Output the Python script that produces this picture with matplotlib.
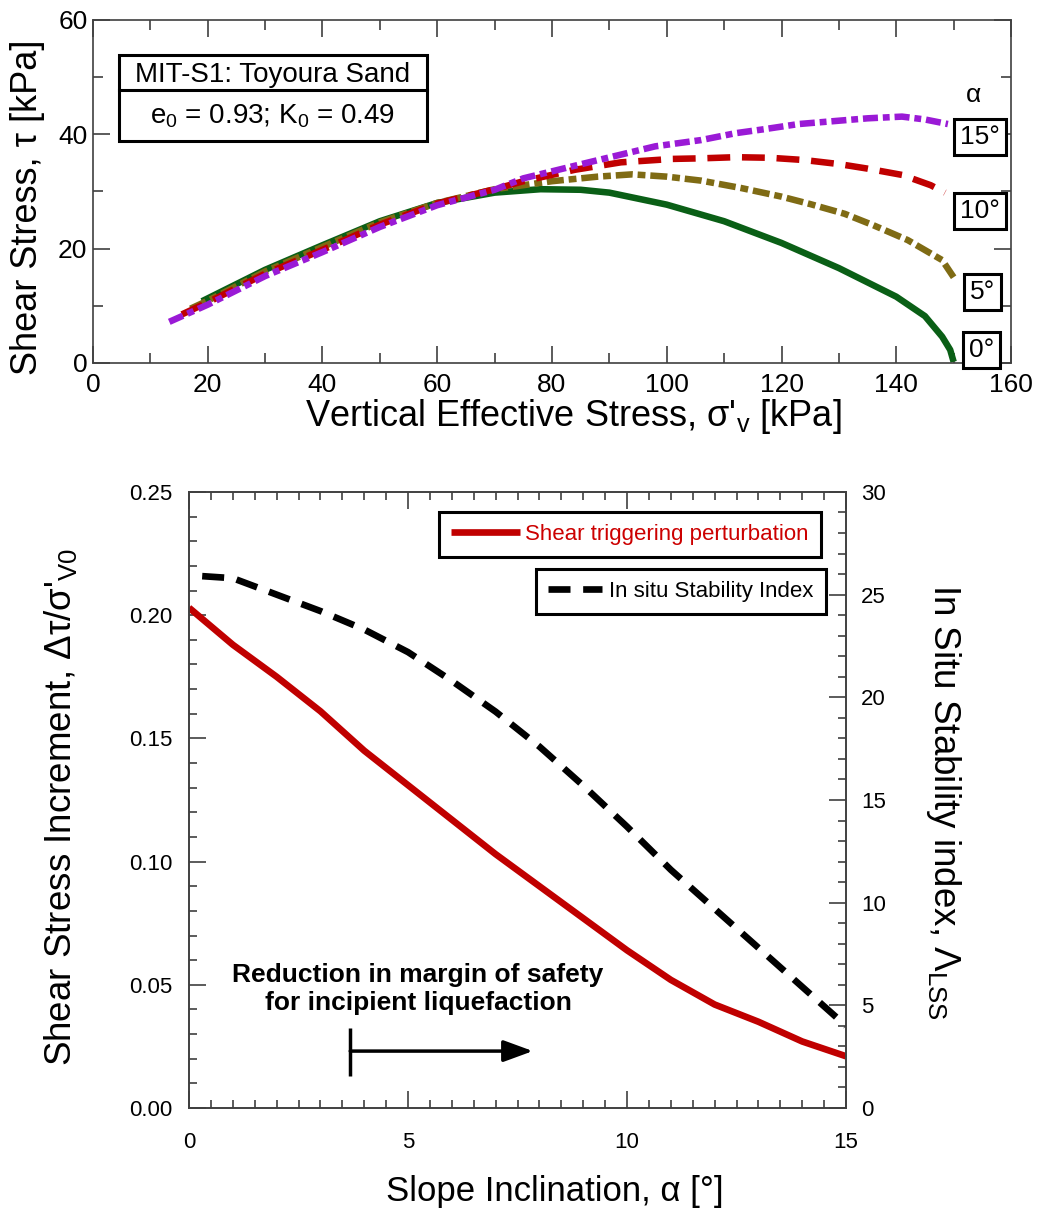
import matplotlib.pyplot as plt
from matplotlib.patches import Rectangle
from matplotlib.lines import Line2D
from matplotlib.ticker import MultipleLocator, FormatStrFormatter

plt.rcParams['font.family'] = ['Liberation Sans', 'DejaVu Sans']
plt.rcParams['mathtext.fontset'] = 'custom'
plt.rcParams['mathtext.rm'] = 'Liberation Sans'
plt.rcParams['mathtext.it'] = 'Liberation Sans:italic'
plt.rcParams['mathtext.bf'] = 'Liberation Sans:bold'

# ---- top panel: effective stress paths for each slope angle
sig_0 = [19, 25, 30, 40, 50, 60, 70, 78, 85, 90, 100, 110, 120, 130, 140, 145, 148, 149.4, 150]
tau_0 = [10.8, 13.8, 16.3, 20.6, 24.8, 28.0, 29.8, 30.4, 30.3, 29.8, 27.7, 24.8, 21.0, 16.6, 11.6, 8.2, 4.6, 2.3, 0.2]

sig_5 = [17, 20, 30, 40, 50, 60, 70, 80, 88, 94, 100, 106, 113, 120, 125, 131, 136, 142, 148, 150]
tau_5 = [9.5, 10.9, 16.0, 20.3, 24.6, 28.0, 30.4, 31.8, 32.6, 33.0, 32.6, 31.9, 30.6, 29.1, 27.8, 26.1, 24.1, 21.5, 18.0, 15.0]

sig_10 = [15.5, 20, 30, 40, 50, 60, 70, 75, 84, 92, 101, 106, 112, 118, 124, 130, 135, 141, 146, 148.5]
tau_10 = [8.5, 10.6, 15.6, 19.8, 24.2, 27.9, 30.4, 31.8, 33.8, 35.1, 35.7, 35.8, 36.0, 35.9, 35.5, 34.8, 34.0, 32.9, 31.1, 29.8]

sig_15 = [13.3, 20, 30, 40, 50, 60, 70, 75, 86, 98, 106, 112, 117, 123, 129, 135, 141, 145, 149]
tau_15 = [7.2, 10.2, 15.2, 19.4, 23.8, 27.6, 30.3, 32.3, 35.0, 37.9, 39.0, 40.2, 40.9, 41.8, 42.3, 42.8, 43.1, 42.6, 41.8]

angle_labels = ['0°', '5°', '10°', '15°']

# ---- bottom panel
alpha = [0, 1, 2, 3, 4, 5, 6, 7, 8, 9, 10, 11, 12, 13, 14, 15]
shear_inc = [0.203, 0.188, 0.175, 0.161, 0.145, 0.131, 0.117, 0.103, 0.090, 0.077,
             0.064, 0.052, 0.042, 0.035, 0.027, 0.021]
alpha_lss = [0.3, 1, 2, 3, 4, 5, 6, 7, 8, 9, 10, 11, 12, 13, 14, 15]
lss = [25.9, 25.8, 25.0, 24.2, 23.3, 22.2, 20.8, 19.3, 17.6, 15.7, 13.7, 11.6, 9.7, 7.8, 5.9, 4.0]

spine_col = '#404040'

fig = plt.figure(figsize=(10.41, 12.12), dpi=100)

# ================= top panel
ax = fig.add_axes([0.0893, 0.7005, 0.8819, 0.283])
lw = 4.7
ax.plot(sig_0, tau_0, color='#0A5F16', lw=lw, solid_capstyle='butt')
ax.plot(sig_5, tau_5, color='#7F6B14', lw=lw, linestyle=(0, (2.6, 0.75, 1.2, 0.75)))
ax.plot(sig_10, tau_10, color='#C00000', lw=lw, linestyle=(0, (3.5, 1.8)))
ax.plot(sig_15, tau_15, color='#9A1AD6', lw=lw, linestyle=(0, (2.3, 0.75, 1.05, 0.75)))

ax.set_xlim(0, 160)
ax.set_ylim(0, 60)
ax.xaxis.set_major_locator(MultipleLocator(20))
ax.xaxis.set_minor_locator(MultipleLocator(10))
ax.yaxis.set_major_locator(MultipleLocator(20))
ax.yaxis.set_minor_locator(MultipleLocator(10))
ax.tick_params(which='both', direction='in', top=True, right=True, color=spine_col)
ax.tick_params(which='major', length=12, width=1.2, labelsize=19)
ax.tick_params(which='minor', length=7, width=1.2)
ax.tick_params(axis='x', pad=7)
ax.tick_params(axis='y', pad=4)
for s in ax.spines.values():
    s.set_color(spine_col)
    s.set_linewidth(1.2)

ax.set_xlabel("Vertical Effective Stress, σ'$_\\mathrm{v}$ [kPa]", fontsize=26)
ax.set_ylabel('Shear Stress, τ [kPa]', fontsize=26)
ax.xaxis.set_label_coords(0.523, -0.10)
ax.yaxis.set_label_coords(-0.052, 0.455)

# info box
ax.add_patch(Rectangle((0.0283, 0.647), 0.3355, 0.251, transform=ax.transAxes,
                       fill=False, ec='k', lw=2.2, clip_on=False))
ax.add_line(Line2D([0.0283, 0.3638], [0.796, 0.796], transform=ax.transAxes, color='k', lw=2.2))
ax.text(0.196, 0.84, 'MIT-S1: Toyoura Sand', transform=ax.transAxes,
        ha='center', va='center', fontsize=20)
ax.text(0.196, 0.72, 'e$_0$ = 0.93; K$_0$ = 0.49', transform=ax.transAxes,
        ha='center', va='center', fontsize=20)

# angle labels at the end of each path
ax.text(153.4, 46.9, 'α', ha='center', va='center', fontsize=19)
for lab, (xx, yy) in zip(angle_labels, [(154.9, 2.3), (155.1, 12.4), (154.6, 26.6), (154.6, 39.5)]):
    ax.text(xx, yy, lab, ha='center', va='center', fontsize=19, clip_on=False,
            bbox=dict(boxstyle='square,pad=0.22', fc='white', ec='k', lw=2.2))

# ================= bottom panel
axb = fig.add_axes([0.1816, 0.0858, 0.6311, 0.5083])
axr = axb.twinx()

red_line, = axb.plot(alpha, shear_inc, color='#C00000', lw=4.8, solid_capstyle='butt',
                     label='Shear triggering perturbation')
blk_line, = axr.plot(alpha_lss, lss, color='k', lw=4.8, linestyle=(0, (3.3, 1.9)),
                     label='In situ Stability Index')

axb.set_xlim(0, 15)
axb.set_ylim(0, 0.25)
axr.set_ylim(0, 30)

axb.xaxis.set_major_locator(MultipleLocator(5))
axb.xaxis.set_minor_locator(MultipleLocator(0.5))
axb.yaxis.set_major_locator(MultipleLocator(0.05))
axb.yaxis.set_minor_locator(MultipleLocator(0.01))
axb.yaxis.set_major_formatter(FormatStrFormatter('%.2f'))
axr.yaxis.set_major_locator(MultipleLocator(5))
axr.yaxis.set_minor_locator(MultipleLocator(1))

axb.tick_params(which='both', direction='in', top=True, right=False, color=spine_col)
axb.tick_params(which='major', length=12, width=1.2, labelsize=16)
axb.tick_params(which='minor', length=6, width=1.2)
axb.tick_params(axis='x', pad=17)
axb.tick_params(axis='y', pad=12)
axr.tick_params(which='both', direction='in', color=spine_col)
axr.tick_params(which='major', length=12, width=1.2, labelsize=16, pad=11)
axr.tick_params(which='minor', length=6, width=1.2)
for a in (axb, axr):
    for s in a.spines.values():
        s.set_color(spine_col)
        s.set_linewidth(1.2)

axb.set_xlabel('Slope Inclination, α [°]', fontsize=25)
axb.set_ylabel("Shear Stress Increment, Δτ/σ'$_\\mathrm{V0}$", fontsize=26.5)
axr.set_ylabel('In Situ Stability index, Λ$_\\mathrm{LSS}$', fontsize=26.5, rotation=270, va='bottom')
axb.xaxis.set_label_coords(0.557, -0.109)
axb.yaxis.set_label_coords(-0.168, 0.489)
axr.yaxis.set_label_coords(1.118, 0.497)

# two separate legend boxes
leg1 = axr.legend([red_line], [red_line.get_label()], loc='upper right',
                  bbox_to_anchor=(0.962, 0.9675), borderaxespad=0, fancybox=False,
                  edgecolor='k', framealpha=1, fontsize=16, handlelength=3.1,
                  handletextpad=0.25, borderpad=0.55)
leg1.get_frame().set_linewidth(2.2)
leg1.get_texts()[0].set_color('#CC0000')
axr.add_artist(leg1)
leg2 = axr.legend([blk_line], [blk_line.get_label()], loc='upper right',
                  bbox_to_anchor=(0.9696, 0.875), borderaxespad=0, fancybox=False,
                  edgecolor='k', framealpha=1, fontsize=16, handlelength=2.4,
                  handletextpad=0.35, borderpad=0.55)
leg2.get_frame().set_linewidth(2.2)

# annotation with arrow
axb.text(5.23, 0.0483, 'Reduction in margin of safety\nfor incipient liquefaction',
         ha='center', va='center', fontsize=19, fontweight='bold', linespacing=1.2)
axb.plot([3.68, 3.68], [0.013, 0.0325], color='k', lw=2.5, solid_capstyle='butt')
axb.annotate('', xy=(7.85, 0.0231), xytext=(3.68, 0.0231),
             arrowprops=dict(arrowstyle='-|>,head_length=0.6,head_width=0.22',
                             mutation_scale=30, lw=2.5, color='k',
                             shrinkA=0, shrinkB=0))

fig.savefig('out.png', dpi=100)
